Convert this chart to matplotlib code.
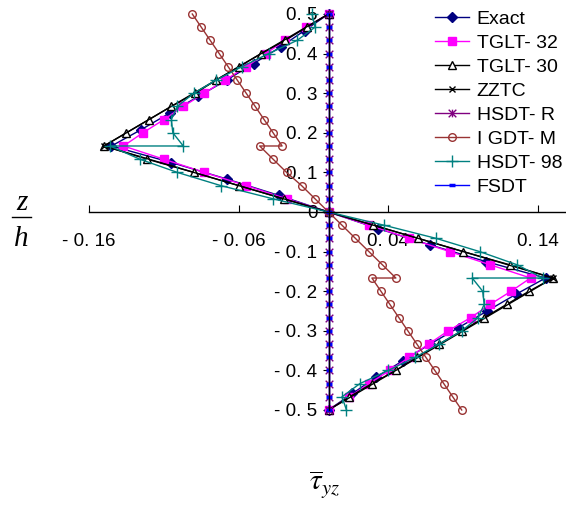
import matplotlib
matplotlib.use('Agg')
import matplotlib.pyplot as plt
import numpy as np
from matplotlib.path import Path
from matplotlib.lines import Line2D

plt.rcParams['font.family'] = ['Liberation Sans', 'DejaVu Sans']
plt.rcParams['mathtext.fontset'] = 'stix'

# through-thickness stations (1/30 step), interface z = +-1/6 repeated where stresses jump
z_top = [0.5, 0.4667, 0.4333, 0.4, 0.3667, 0.3333, 0.3, 0.2667, 0.2333, 0.2, 0.1667]
z_mid = [0.1667, 0.1333, 0.1, 0.0667, 0.0333, 0.0, -0.0333, -0.0667, -0.1, -0.1333, -0.1667]
z_bot = [-0.1667, -0.2, -0.2333, -0.2667, -0.3, -0.3333, -0.3667, -0.4, -0.4333, -0.4667, -0.5]

# exact solution (1/24 step)
z_exact = [0.5, 0.4583, 0.4167, 0.375, 0.3333, 0.2917, 0.25, 0.2083, 0.1667,
           0.125, 0.0833, 0.0417, 0.0, -0.0417, -0.0833, -0.125, -0.1667,
           -0.2083, -0.25, -0.2917, -0.3333, -0.375, -0.4167, -0.4583, -0.5]
tau_exact = [0.0, -0.016, -0.032, -0.050, -0.068, -0.087, -0.106, -0.125, -0.145,
             -0.105, -0.068, -0.033, 0.0, 0.033, 0.068, 0.105, 0.145,
             0.125, 0.106, 0.087, 0.068, 0.050, 0.032, 0.016, 0.0]

tau_tglt32 = ([0.0, -0.015, -0.029, -0.042, -0.055, -0.069, -0.083, -0.097, -0.110, -0.124, -0.137]
              + [-0.110, -0.083, -0.055, -0.028, 0.0, 0.027, 0.054, 0.081, 0.108, 0.135]
              + [0.122, 0.108, 0.095, 0.080, 0.067, 0.054, 0.041, 0.027, 0.014, 0.0])

tau_tglt30 = ([0.0, -0.0145, -0.029, -0.045, -0.060, -0.075, -0.089, -0.105, -0.120, -0.135, -0.150]
              + [-0.121, -0.090, -0.060, -0.030, 0.0, 0.030, 0.060, 0.090, 0.121, 0.150]
              + [0.134, 0.119, 0.104, 0.089, 0.074, 0.059, 0.045, 0.029, 0.014, 0.0])

z_zztc = [0.5, 0.1667, 0.0, -0.1667, -0.5]
tau_zztc = [0.0, -0.150, 0.0, 0.150, 0.0]

tau_igdt_top = [-0.091, -0.085, -0.079, -0.073, -0.067, -0.061, -0.055, -0.049, -0.043, -0.037, -0.031]
tau_igdt_mid = [-0.046, -0.037, -0.028, -0.018, -0.009, 0.0, 0.009, 0.018, 0.027, 0.036, 0.045]
tau_igdt_bot = [0.029, 0.035, 0.041, 0.047, 0.053, 0.059, 0.065, 0.071, 0.077, 0.083, 0.089]

tau_h98_top = [-0.011, -0.009, -0.021, -0.040, -0.058, -0.075, -0.090, -0.101, -0.105, -0.104, -0.097]
tau_h98_mid = [-0.146, -0.126, -0.101, -0.072, -0.037, 0.0, 0.037, 0.072, 0.101, 0.126, 0.143]
tau_h98_bot = [0.096, 0.103, 0.104, 0.100, 0.089, 0.074, 0.058, 0.040, 0.021, 0.009, 0.012]

z_all = z_top + z_mid[1:] + z_bot[1:]
tau_hsdtr = [0.0] * len(z_all)
tau_fsdt = [0.0] * len(z_all)

xticks = [-0.16, -0.06, 0.04, 0.14]
xtick_labels = ['- 0. 16', '- 0. 06', '0. 04', '0. 14']
yticks = [0.5, 0.4, 0.3, 0.2, 0.1, 0.0, -0.1, -0.2, -0.3, -0.4, -0.5]
ytick_labels = ['0. 5', '0. 4', '0. 3', '0. 2', '0. 1', '0',
                '- 0. 1', '- 0. 2', '- 0. 3', '- 0. 4', '- 0. 5']

# excel style star: an x with a vertical bar through it
star = Path([(-1, -1), (1, 1), (-1, 1), (1, -1), (0, -1), (0, 1)],
            [Path.MOVETO, Path.LINETO, Path.MOVETO, Path.LINETO, Path.MOVETO, Path.LINETO])

fig = plt.figure(figsize=(5.66, 5.05), dpi=100)
ax = fig.add_axes([89 / 566, 95 / 505, 479 / 566, 396 / 505])

kw = dict(lw=1.0, clip_on=False)
ax.plot(tau_exact, z_exact, color='#000080', marker='D', ms=5, mfc='#000080', mec='#000080',
        label='Exact', **kw)
ax.plot(tau_tglt32, z_all, color='#FF00FF', marker='s', ms=5.5, mfc='#FF00FF', mec='#FF00FF',
        label='TGLT- 32', **kw)
ax.plot(tau_tglt30, z_all, color='black', marker='^', ms=6, mfc='white', mec='black', mew=1.0,
        label='TGLT- 30', **kw)
ax.plot(tau_zztc, z_zztc, color='black', marker='x', ms=5, mec='black',
        label='ZZTC', **kw)
ax.plot(tau_hsdtr, z_all, color='#800080', marker=star, ms=5.5, mec='#800080', mew=1.0,
        label='HSDT- R', **kw)
ax.plot(tau_igdt_top + tau_igdt_mid + tau_igdt_bot, z_top + z_mid + z_bot, color='#993333',
        marker='o', ms=5.5, mfc='none', mec='#993333', mew=1.0, label='I GDT- M', **kw)
ax.plot(tau_h98_top + tau_h98_mid + tau_h98_bot, z_top + z_mid + z_bot, color='#008080',
        marker='+', ms=8, mec='#008080', mew=1.0, label='HSDT- 98', **kw)
ax.plot(tau_fsdt, z_all, color='#0000FF', marker='_', ms=5, mec='#0000FF', mew=2.5,
        label='FSDT', **kw)

ax.set_xlim(-0.16, 0.16)
ax.set_ylim(-0.5, 0.5)

for side in ['top', 'right']:
    ax.spines[side].set_visible(False)
ax.spines['left'].set_position(('data', 0))
ax.spines['bottom'].set_position(('data', 0))
ax.spines['left'].set_linewidth(1.0)
ax.spines['bottom'].set_linewidth(1.0)

ax.set_xticks(xticks)
ax.set_xticklabels(xtick_labels)
ax.set_yticks(yticks)
ax.set_yticklabels(ytick_labels)
ax.tick_params(axis='x', direction='in', length=5, pad=15, labelsize=13.5)
ax.tick_params(axis='y', direction='out', length=4, pad=4, labelsize=13.5)

ax.legend(loc='upper left', bbox_to_anchor=(435 / 566, 1 - 10 / 505), bbox_transform=fig.transFigure,
          frameon=False, fontsize=14, handlelength=1.75, handletextpad=0.4,
          labelspacing=0.33, borderpad=0, borderaxespad=0)

# z/h label on the left
fig.text(22 / 566, 1 - 203 / 505, 'z', fontsize=21, family='Liberation Serif', style='italic',
         ha='center', va='center')
fig.add_artist(Line2D([12 / 566, 31 / 566], [1 - 217 / 505, 1 - 217 / 505], color='black', lw=1.0))
fig.text(21 / 566, 1 - 239 / 505, 'h', fontsize=21, family='Liberation Serif', style='italic',
         ha='center', va='center')

fig.text(325 / 566, 1 - 484 / 505, r'$\overline{\tau}_{yz}$', fontsize=21, ha='center', va='center')

fig.savefig('out.png', dpi=100)
